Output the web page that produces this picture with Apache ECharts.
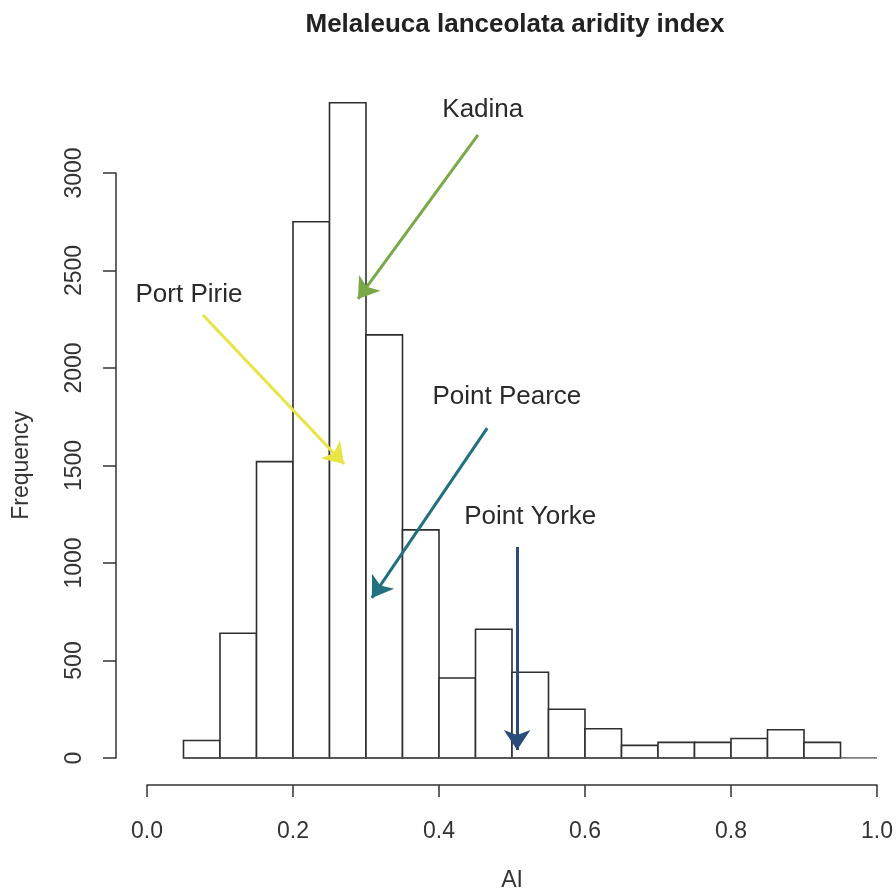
<!DOCTYPE html>
<html>
<head>
<meta charset="utf-8">
<script src="https://cdn.jsdelivr.net/npm/echarts@6/dist/echarts.min.js"></script>
<style>
html,body{margin:0;padding:0;background:#fff;}
#chart{width:896px;height:895px;}
</style>
</head>
<body>
<div id="chart"></div>
<script>
// Histogram bins (lower edges) and bin width
const binStarts = [0.05,0.10,0.15,0.20,0.25,0.30,0.35,0.40,0.45,0.50,0.55,0.60,0.65,0.70,0.75,0.80,0.85,0.90];
const binWidth = 0.05;
const counts = [90,640,1520,2750,3360,2170,1170,410,660,440,250,150,65,80,80,100,145,80];
const xTicks = [0.0,0.2,0.4,0.6,0.8,1.0];
const yTicks = [0,500,1000,1500,2000,2500,3000];

// Annotations (data coordinates)
const siteNames = ['Kadina','Port Pirie','Point Pearce','Point Yorke'];
const siteColors = ['#79a847','#e8e444','#21707e','#2b4b7b'];
const labelPos = [[0.460,3323],[0.0575,2374],[0.493,1851],[0.525,1236]];
const arrowFrom = [[0.4534,3195],[0.0767,2272],[0.466,1692],[0.507,1082]];
const arrowTo = [[0.289,2354],[0.270,1508],[0.308,821],[0.507,41]];

const FONT = '"Liberation Sans", Arial, Helvetica, sans-serif';
const AXC = '#333';

const chart = echarts.init(document.getElementById('chart'), null, {renderer:'canvas'});

const option = {
  backgroundColor:'#fff',
  animation:false,
  title:{
    text:'Melaleuca lanceolata aridity index',
    left:510, top:7, textAlign:'center',
    textStyle:{fontFamily:FONT,fontWeight:'bold',fontSize:26,color:'#222'}
  },
  grid:[
    {left:147,right:19,top:95,bottom:137,containLabel:false,outerBoundsMode:'none'},
    {left:116,width:1,top:173,bottom:137,containLabel:false,outerBoundsMode:'none'}
  ],
  xAxis:[
    {type:'value',gridIndex:0,min:0,max:1,interval:0.2,offset:27,
     name:'AI',nameLocation:'middle',nameGap:84,
     nameTextStyle:{fontFamily:FONT,fontSize:23,color:AXC},
     axisLine:{show:true,onZero:false,lineStyle:{color:AXC,width:1.5}},
     axisTick:{show:true,length:12,lineStyle:{color:AXC,width:1.5}},
     axisLabel:{margin:35,fontFamily:FONT,fontSize:23,color:AXC,
       formatter:v=>{const t=xTicks.find(x=>Math.abs(x-v)<1e-9);return t===undefined?'':t.toFixed(1);}},
     splitLine:{show:false}},
    {type:'value',gridIndex:1,show:false,min:0,max:1}
  ],
  yAxis:[
    {type:'value',gridIndex:0,min:0,max:3400,show:false,splitLine:{show:false}},
    {type:'value',gridIndex:1,min:0,max:3000,interval:500,position:'left',
     name:'Frequency',nameLocation:'middle',nameGap:83,nameRotate:90,
     nameTextStyle:{fontFamily:FONT,fontSize:23,color:AXC},
     axisLine:{show:true,onZero:false,lineStyle:{color:AXC,width:1.5}},
     axisTick:{show:true,length:13,lineStyle:{color:AXC,width:1.5}},
     axisLabel:{rotate:90,margin:30,fontFamily:FONT,fontSize:23,color:AXC,
       formatter:v=>yTicks.indexOf(v)>=0?String(v):''},
     splitLine:{show:false}}
  ],
  series:[
    {
      type:'custom',xAxisIndex:0,yAxisIndex:0,silent:true,
      data:binStarts.map((b,i)=>[b,b+binWidth,counts[i]]),
      renderItem:function(params,api){
        const p0=api.coord([api.value(0),0]);
        const p1=api.coord([api.value(1),api.value(2)]);
        return {type:'rect',
          shape:{x:p0[0],y:p1[1],width:p1[0]-p0[0],height:p0[1]-p1[1]},
          style:{fill:'#fff',stroke:'#2e2e2e',lineWidth:1.6}};
      },
      z:2
    },
    {
      type:'line',xAxisIndex:0,yAxisIndex:0,silent:true,symbol:'none',
      data:[[binStarts[0],0],[1.0,0]],
      lineStyle:{color:'#555',width:1.5},z:3
    },
    {
      type:'lines',coordinateSystem:'cartesian2d',xAxisIndex:0,yAxisIndex:0,silent:true,
      symbol:['none','arrow'],symbolSize:[16,20],
      data:siteNames.map((n,i)=>({coords:[arrowFrom[i],arrowTo[i]],
        lineStyle:{color:siteColors[i],width:3,opacity:1}})),
      z:5
    },
    {
      type:'scatter',xAxisIndex:0,yAxisIndex:0,silent:true,symbolSize:0,
      itemStyle:{opacity:1},
      data:siteNames.map((n,i)=>({name:n,value:labelPos[i]})),
      label:{show:true,position:'inside',formatter:p=>p.name,opacity:1,
        fontFamily:FONT,fontSize:26,color:'#2a2a2a'},
      z:6
    }
  ]
};
chart.setOption(option);
</script>
</body>
</html>
